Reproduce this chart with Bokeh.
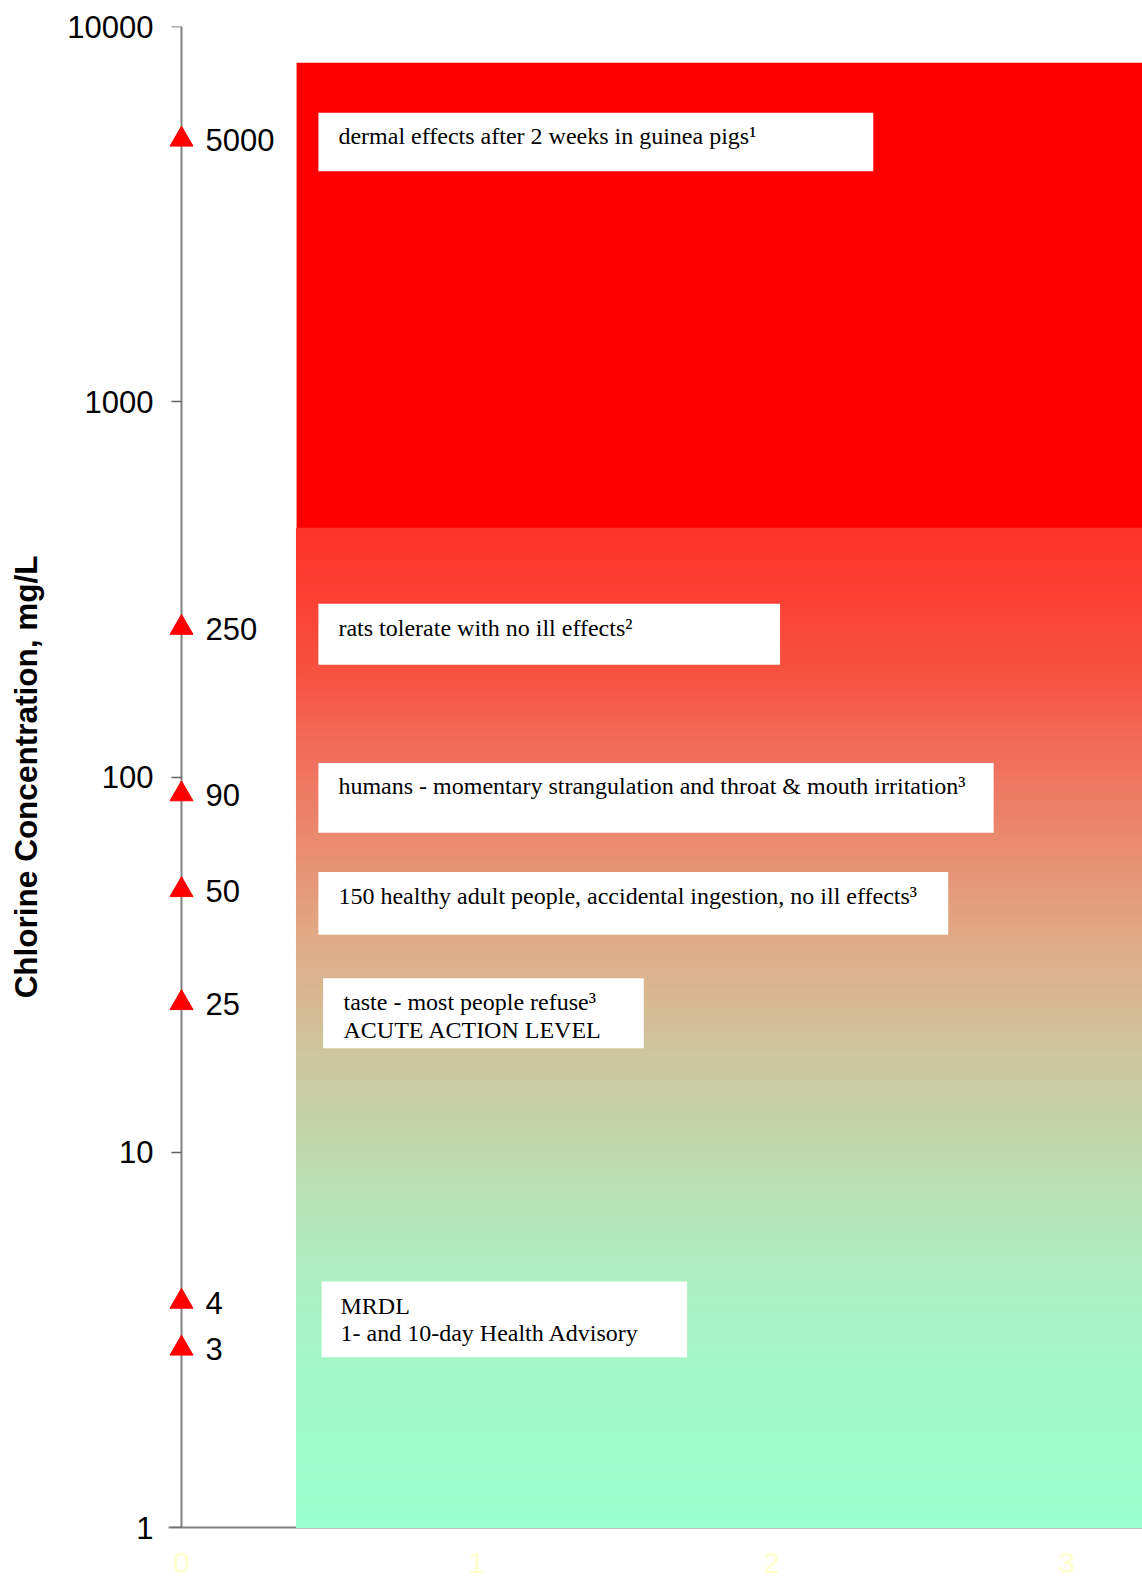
import numpy as np
from bokeh.plotting import figure
from bokeh.models import Range1d, FixedTicker, PrintfTickFormatter, ColumnDataSource, LogAxis
from bokeh.core.properties import value
from bokeh.embed import file_html
from bokeh.resources import INLINE

# ---------------- data ----------------
levels = [5000, 250, 90, 50, 25, 4, 3]
level_labels = ["5000", "250", "90", "50", "25", "4", "3"]

notes = [
    "dermal effects after 2 weeks in guinea pigs\u00b9",
    "rats tolerate with no ill effects\u00b2",
    "humans - momentary strangulation and throat & mouth irritation\u00b3",
    "150 healthy adult people, accidental ingestion, no ill effects\u00b3",
    "taste - most people refuse\u00b3",
    "ACUTE ACTION LEVEL",
    "MRDL",
    "1- and 10-day Health Advisory",
]
note_levels = [5000, 250, 90, 50, 25, 25, 4, 3]

y_ticks = [1, 10, 100, 1000, 10000]
x_ticks = [0, 1, 2, 3]

# background zones (concentration bounds)
red_top = 8000
red_bottom = 460
zone_bottom = 1
zone_left = 0.39
zone_right = 3.4

# ---------------- layout of note boxes ----------------
box_left = [0.464, 0.464, 0.464, 0.464, 0.480, 0.475]
box_right = [2.345, 2.029, 2.753, 2.599, 1.567, 1.714]
box_top = [5888, 289.4, 109.0, 55.8, 29.1, 4.524]
box_bottom = [4116, 199.1, 71.0, 37.96, 18.94, 2.843]
note_x = [0.532, 0.532, 0.532, 0.532, 0.549, 0.549, 0.539, 0.539]
note_dy = [-3, 0, -8, 6, -1, 27, 4, -15]

# gradient colour stops (fraction from top of gradient zone, rgb)
stops_f = [0.0, 0.15, 0.21, 0.41, 0.53, 0.73, 0.87, 1.0]
stops_rgb = [
    (255, 50, 41),
    (246, 82, 64),
    (243, 105, 88),
    (225, 170, 133),
    (205, 198, 158),
    (175, 237, 191),
    (160, 249, 201),
    (153, 255, 204),
]

p = figure(
    width=1142, height=1585,
    x_range=Range1d(-0.0441, 3.2576),
    y_range=Range1d(1, 10000),
    y_axis_type="log",
    output_backend="svg",
    toolbar_location=None,
    min_border_left=168, min_border_top=26, min_border_right=0, min_border_bottom=58,
)

LV = "overlay"

# solid red zone
p.quad(left=[zone_left], right=[zone_right], bottom=[red_bottom], top=[red_top],
       fill_color="#FF0000", line_color=None, level=LV)

# gradient zone as thin stripes (log-equal heights)
n = 300
ltop, lbot = np.log10(red_bottom), np.log10(zone_bottom)
edges = np.linspace(ltop, lbot, n + 1)
tops = 10 ** edges[:-1]
bots = 10 ** edges[1:]
fr = (np.arange(n) + 0.5) / n
cols = []
for f in fr:
    r = np.interp(f, stops_f, [c[0] for c in stops_rgb])
    g = np.interp(f, stops_f, [c[1] for c in stops_rgb])
    b = np.interp(f, stops_f, [c[2] for c in stops_rgb])
    cols.append("#%02x%02x%02x" % (int(round(r)), int(round(g)), int(round(b))))
p.quad(left=[zone_left] * n, right=[zone_right] * n, top=tops, bottom=bots,
       fill_color=cols, line_color=cols, line_width=1.2, level=LV)

# white note boxes
p.quad(left=box_left, right=box_right, top=box_top, bottom=box_bottom,
       fill_color="white", line_color=None, level=LV)

# note texts
src_notes = ColumnDataSource(dict(x=note_x, y=note_levels, text=notes, dy=note_dy))
p.text(x="x", y="y", text="text", y_offset="dy", source=src_notes,
       text_font=value("Liberation Serif"), text_font_size="24px",
       text_baseline="alphabetic", text_align="left", text_color="#000000", level=LV)

# markers on the axis
p.scatter(x=[0] * len(levels), y=levels, marker="triangle", size=23,
          fill_color="#FF0000", line_color="#FF0000", level=LV)
p.text(x=[0] * len(levels), y=levels, text=level_labels, x_offset=24, y_offset=1,
       text_font=value("Liberation Sans"), text_font_size="31px",
       text_baseline="alphabetic", text_align="left", text_color="#000000", level=LV)

# main (label-carrying) y axis, at frame edge
ya = p.yaxis[0]
ya.ticker = FixedTicker(ticks=y_ticks)
ya.formatter = PrintfTickFormatter(format="%d")
ya.major_label_text_font = "Liberation Sans"
ya.major_label_text_font_size = "31px"
ya.major_label_text_color = "#000000"
ya.major_label_standoff = 15
ya.major_tick_out = 0
ya.major_tick_in = 0
ya.major_tick_line_color = None
ya.minor_tick_line_color = None
ya.axis_line_color = None
ya.axis_label = "Chlorine Concentration, mg/L"
ya.axis_label_text_font = "Liberation Sans"
ya.axis_label_text_font_size = "31.5px"
ya.axis_label_text_font_style = "bold"
ya.axis_label_text_color = "#000000"
ya.axis_label_standoff = 20

# axis line + ticks at concentration axis x = 0
ya2 = LogAxis(fixed_location=0, ticker=FixedTicker(ticks=y_ticks),
              axis_line_color="#808080", axis_line_width=2,
              major_tick_out=10, major_tick_in=0,
              major_tick_line_color="#606060", major_tick_line_width=1.5,
              minor_tick_line_color=None,
              major_label_text_font_size="2px", major_label_text_color=None,
              major_label_standoff=0)
p.add_layout(ya2, "left")

xa = p.xaxis[0]
xa.ticker = FixedTicker(ticks=x_ticks)
xa.major_tick_line_color = None
xa.major_tick_out = 0
xa.major_tick_in = 0
xa.minor_tick_line_color = None
xa.major_label_text_font = "Liberation Sans"
xa.major_label_text_font_size = "30px"
xa.major_label_text_color = "#FFFFCC"
xa.major_label_standoff = 25
xa.axis_line_color = "#808080"
xa.axis_line_width = 2

p.grid.grid_line_color = None
p.outline_line_color = None
p.background_fill_color = "white"
p.border_fill_color = "white"

open("out.html", "w").write(file_html(p, INLINE))
